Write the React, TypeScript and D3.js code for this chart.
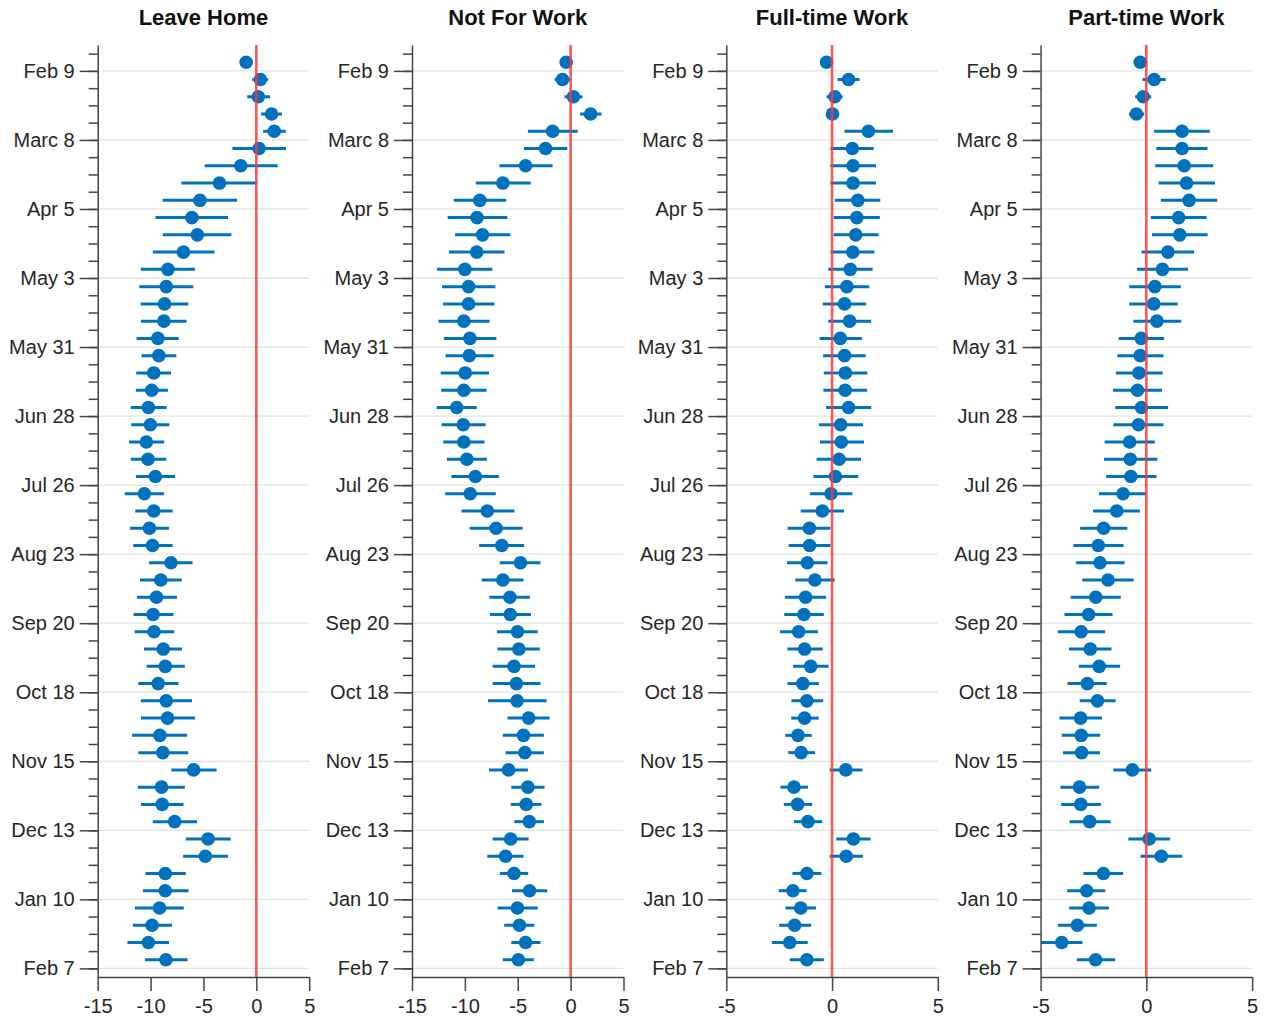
import React, { useEffect, useRef } from 'react';
import * as d3 from 'd3';

const panelTitles = ['Leave Home', 'Not For Work', 'Full-time Work', 'Part-time Work'];
const panelDomains = [[-15, 5], [-15, 5], [-5, 5], [-5, 5]];
const panelTicks = [[-15, -10, -5, 0, 5], [-15, -10, -5, 0, 5], [-5, 0, 5], [-5, 0, 5]];

const majorLabels = ['Feb 9', 'Marc 8', 'Apr 5', 'May 3', 'May 31', 'Jun 28', 'Jul 26',
  'Aug 23', 'Sep 20', 'Oct 18', 'Nov 15', 'Dec 13', 'Jan 10', 'Feb 7'];

const leaveHomeEst = [-0.96, 0.38, 0.19, 1.44, 1.69, 0.26, -1.47, -3.48, -5.33, -6.09,
  -5.58, -6.89, -8.36, -8.52, -8.68, -8.74, -9.31, -9.22, -9.70, -9.89,
  -10.21, -10.02, -10.40, -10.24, -9.54, -10.59, -9.70, -10.11, -9.82, -8.07,
  -9.03, -9.44, -9.76, -9.67, -8.80, -8.61, -9.28, -8.52, -8.39, -9.12,
  -8.84, -5.93, -8.96, -8.90, -7.72, -4.56, -4.82, -8.61, -8.61, -9.15,
  -9.86, -10.21, -8.55];
const leaveHomeLo = [-1.4, -0.38, -0.86, 0.45, 0.64, -2.26, -4.88, -7.08, -8.87, -9.54,
  -8.84, -9.79, -10.91, -11.07, -10.94, -10.91, -11.32, -10.85, -11.36, -11.39,
  -11.87, -11.83, -12.03, -11.87, -11.39, -12.44, -11.45, -11.93, -11.64, -10.14,
  -11.0, -11.29, -11.61, -11.51, -10.62, -10.37, -11.16, -10.91, -10.91, -11.74,
  -11.16, -8.04, -11.20, -10.91, -9.79, -6.67, -6.92, -10.49, -10.72, -11.48,
  -11.67, -12.19, -10.53];
const leaveHomeHi = [-0.5, 1.12, 1.31, 2.42, 2.78, 2.81, 2.01, 0.06, -1.82, -2.68,
  -2.36, -3.96, -5.81, -5.96, -6.44, -6.60, -7.34, -7.56, -8.07, -8.36,
  -8.48, -8.23, -8.71, -8.52, -7.69, -8.74, -7.91, -8.26, -7.91, -6.03,
  -7.05, -7.50, -7.85, -7.78, -7.02, -6.76, -7.37, -6.09, -5.81, -6.54,
  -6.44, -3.76, -6.76, -6.89, -5.61, -2.42, -2.68, -6.67, -6.41, -6.86,
  -7.97, -8.26, -6.51];

const notForWorkEst = [-0.42, -0.77, 0.26, 1.89, -1.70, -2.37, -4.26, -6.41, -8.59, -8.85,
  -8.33, -8.88, -10.0, -9.65, -9.65, -10.10, -9.52, -9.58, -9.97, -10.10,
  -10.77, -10.16, -10.10, -9.81, -9.01, -9.49, -7.88, -7.05, -6.51, -4.74,
  -6.41, -5.74, -5.71, -5.03, -4.90, -5.35, -5.13, -5.06, -3.97, -4.46,
  -4.33, -5.87, -4.04, -4.20, -3.91, -5.67, -6.15, -5.35, -3.88, -5.03,
  -4.84, -4.26, -4.94];
const notForWorkLo = [-0.8, -1.51, -0.58, 0.90, -4.04, -4.42, -6.73, -8.97, -11.06, -11.63,
  -10.93, -11.51, -12.63, -12.15, -12.08, -12.5, -11.99, -11.83, -12.28, -12.24,
  -12.66, -12.21, -12.05, -11.70, -11.28, -11.86, -10.32, -9.55, -8.65, -6.70,
  -8.40, -7.69, -7.63, -6.96, -6.92, -7.37, -7.37, -7.82, -5.96, -6.41,
  -6.15, -7.72, -5.61, -5.67, -5.32, -7.37, -7.88, -6.70, -5.54, -6.89,
  -6.28, -5.61, -6.41];
const notForWorkHi = [-0.05, -0.06, 1.12, 2.92, 0.67, -0.32, -1.70, -3.78, -6.09, -5.99,
  -5.71, -6.25, -7.40, -7.12, -7.21, -7.66, -7.02, -7.28, -7.72, -7.95,
  -8.88, -8.04, -8.14, -7.92, -6.79, -7.08, -5.32, -4.55, -4.39, -2.85,
  -4.46, -3.85, -3.75, -3.11, -2.92, -3.37, -2.85, -2.28, -1.99, -2.53,
  -2.53, -4.04, -2.47, -2.76, -2.53, -3.97, -4.46, -4.01, -2.21, -3.11,
  -3.43, -2.85, -3.49];

const fullTimeEst = [-0.26, 0.78, 0.13, 0.02, 1.72, 0.96, 0.99, 0.99, 1.22, 1.17,
  1.12, 0.98, 0.86, 0.70, 0.59, 0.83, 0.39, 0.59, 0.63, 0.62,
  0.78, 0.41, 0.44, 0.33, 0.16, -0.05, -0.46, -1.07, -1.06, -1.17,
  -0.81, -1.25, -1.33, -1.58, -1.30, -1.01, -1.38, -1.19, -1.30, -1.61,
  -1.46, 0.65, -1.80, -1.63, -1.14, 1.01, 0.67, -1.19, -1.85, -1.48,
  -1.77, -2.0, -1.19];
const fullTimeLo = [-0.45, 0.26, -0.26, -0.28, 0.59, -0.07, -0.08, -0.08, 0.13, 0.08,
  0.08, -0.07, -0.18, -0.34, -0.44, -0.18, -0.59, -0.42, -0.39, -0.41,
  -0.28, -0.62, -0.57, -0.73, -0.88, -1.04, -1.48, -2.10, -2.05, -2.13,
  -1.74, -2.23, -2.26, -2.46, -2.11, -1.84, -2.11, -1.92, -1.93, -2.21,
  -2.07, -0.11, -2.44, -2.28, -1.80, 0.20, -0.11, -1.87, -2.52, -2.20,
  -2.50, -2.85, -2.0];
const fullTimeHi = [-0.07, 1.30, 0.50, 0.34, 2.88, 1.97, 2.08, 2.08, 2.28, 2.26,
  2.20, 2.0, 1.92, 1.76, 1.61, 1.85, 1.41, 1.59, 1.67, 1.66,
  1.85, 1.46, 1.51, 1.37, 1.24, 0.96, 0.57, -0.08, -0.07, -0.21,
  0.13, -0.28, -0.39, -0.67, -0.44, -0.16, -0.62, -0.42, -0.63, -0.96,
  -0.81, 1.43, -1.14, -0.94, -0.47, 1.82, 1.46, -0.50, -1.20, -0.76,
  -0.99, -1.15, -0.39];

const partTimeEst = [-0.29, 0.37, -0.15, -0.47, 1.69, 1.69, 1.79, 1.90, 2.02, 1.53,
  1.58, 1.02, 0.76, 0.40, 0.35, 0.50, -0.24, -0.29, -0.35, -0.42,
  -0.23, -0.37, -0.79, -0.76, -0.73, -1.10, -1.40, -2.02, -2.27, -2.19,
  -1.81, -2.39, -2.73, -3.08, -2.65, -2.23, -2.79, -2.31, -3.11, -3.08,
  -3.06, -0.66, -3.16, -3.10, -2.68, 0.13, 0.71, -2.03, -2.82, -2.71,
  -3.26, -4.0, -2.40];
const partTimeLo = [-0.45, -0.18, -0.53, -0.82, 0.37, 0.47, 0.42, 0.58, 0.69, 0.21,
  0.27, -0.23, -0.44, -0.81, -0.81, -0.61, -1.31, -1.37, -1.44, -1.58,
  -1.47, -1.56, -1.97, -2.0, -1.90, -2.24, -2.52, -3.13, -3.45, -3.32,
  -3.03, -3.58, -3.87, -4.18, -3.66, -3.19, -3.73, -3.15, -4.11, -4.0,
  -3.94, -1.56, -4.06, -4.03, -3.63, -0.85, -0.27, -2.98, -3.74, -3.65,
  -4.18, -4.97, -3.29];
const partTimeHi = [-0.13, 0.92, 0.23, -0.10, 3.0, 2.89, 3.16, 3.24, 3.35, 2.85,
  2.90, 2.26, 1.97, 1.63, 1.48, 1.65, 0.84, 0.81, 0.77, 0.74,
  1.03, 0.81, 0.40, 0.52, 0.48, 0.0, -0.31, -0.90, -1.08, -1.03,
  -0.60, -1.21, -1.60, -1.95, -1.65, -1.24, -1.87, -1.45, -2.10, -2.18,
  -2.19, 0.23, -2.23, -2.15, -1.69, 1.11, 1.69, -1.10, -1.94, -1.77,
  -2.34, -3.02, -1.48];

const panelEst = [leaveHomeEst, notForWorkEst, fullTimeEst, partTimeEst];
const panelLo = [leaveHomeLo, notForWorkLo, fullTimeLo, partTimeLo];
const panelHi = [leaveHomeHi, notForWorkHi, fullTimeHi, partTimeHi];

function App() {
  const svgRef = useRef<SVGSVGElement>(null);

  useEffect(() => {
    const width = 1268;
    const height = 1022;
    const font = '"Liberation Sans", Arial, sans-serif';
    const blue = '#0072BD';
    const axisColor = '#444';

    const svg = d3.select(svgRef.current);
    svg.selectAll('*').remove();
    svg.attr('width', width).attr('height', height).style('font-family', font);

    const n = leaveHomeEst.length;
    const y = d3.scaleLinear().domain([-1, n]).range([45, 977]);
    const minorTicks = d3.range(0, n + 1).map(k => k - 0.5);
    const majorTicks = majorLabels.map((_, j) => 0.5 + 4 * j);

    const panelW = 211.5;
    const panelStep = 314.3;

    panelTitles.forEach((title, p) => {
      const left = 97.7 + p * panelStep;
      const x = d3.scaleLinear().domain(panelDomains[p]).range([left, left + panelW]);
      const g = svg.append('g');

      // grid at labelled weeks
      g.selectAll('line.grid')
        .data(majorTicks)
        .enter().append('line')
        .attr('x1', left).attr('x2', left + panelW)
        .attr('y1', d => y(d)).attr('y2', d => y(d))
        .attr('stroke', '#e3e3e3')
        .attr('stroke-width', 1.3);

      const rows = panelEst[p].map((v, i) => ({ i, v, lo: panelLo[p][i], hi: panelHi[p][i] }));

      g.selectAll('line.err')
        .data(rows)
        .enter().append('line')
        .attr('x1', d => x(d.lo)).attr('x2', d => x(d.hi))
        .attr('y1', d => y(d.i)).attr('y2', d => y(d.i))
        .attr('stroke', blue)
        .attr('stroke-width', 3);

      g.selectAll('circle')
        .data(rows)
        .enter().append('circle')
        .attr('cx', d => x(d.v))
        .attr('cy', d => y(d.i))
        .attr('r', 6.8)
        .attr('fill', blue);

      // zero line
      g.append('line')
        .attr('x1', x(0)).attr('x2', x(0))
        .attr('y1', y(-1)).attr('y2', y(n))
        .attr('stroke', '#ff3838')
        .attr('stroke-opacity', 0.85)
        .attr('stroke-width', 2.6);

      // y axis: minor ticks then labelled ones
      const yMinor = g.append('g')
        .attr('transform', `translate(${left},0)`)
        .call(d3.axisLeft(y).tickValues(minorTicks).tickSize(9).tickFormat(() => '').tickSizeOuter(0));
      yMinor.select('.domain').remove();
      yMinor.selectAll('line').attr('stroke', axisColor).attr('stroke-width', 1.5);

      const yMajor = g.append('g')
        .attr('transform', `translate(${left},0)`)
        .call(d3.axisLeft(y).tickValues(majorTicks).tickSize(18).tickPadding(5)
          .tickFormat((d, j) => majorLabels[j]).tickSizeOuter(0));
      yMajor.select('.domain').attr('stroke', axisColor).attr('stroke-width', 1.5);
      yMajor.selectAll('line').attr('stroke', axisColor).attr('stroke-width', 1.5);
      yMajor.selectAll('text')
        .style('font-family', font)
        .style('font-size', '20px')
        .attr('fill', '#262626');

      const xAxis = g.append('g')
        .attr('transform', `translate(0,${y(n)})`)
        .call(d3.axisBottom(x).tickValues(panelTicks[p]).tickSize(14).tickPadding(8)
          .tickFormat(d => String(d)).tickSizeOuter(0));
      xAxis.select('.domain').attr('stroke', axisColor).attr('stroke-width', 1.5);
      xAxis.selectAll('line').attr('stroke', axisColor).attr('stroke-width', 1.5);
      xAxis.selectAll('text')
        .style('font-family', font)
        .style('font-size', '20px')
        .attr('fill', '#262626');

      svg.append('text')
        .attr('x', left + panelW / 2)
        .attr('y', 25)
        .attr('text-anchor', 'middle')
        .style('font-size', '22px')
        .style('font-weight', 'bold')
        .attr('fill', '#111')
        .text(title);
    });
  }, []);

  return (
    <div style={{ position: 'absolute', left: 0, top: 0, background: '#fff' }}>
      <svg ref={svgRef} />
    </div>
  );
}

export default App;
